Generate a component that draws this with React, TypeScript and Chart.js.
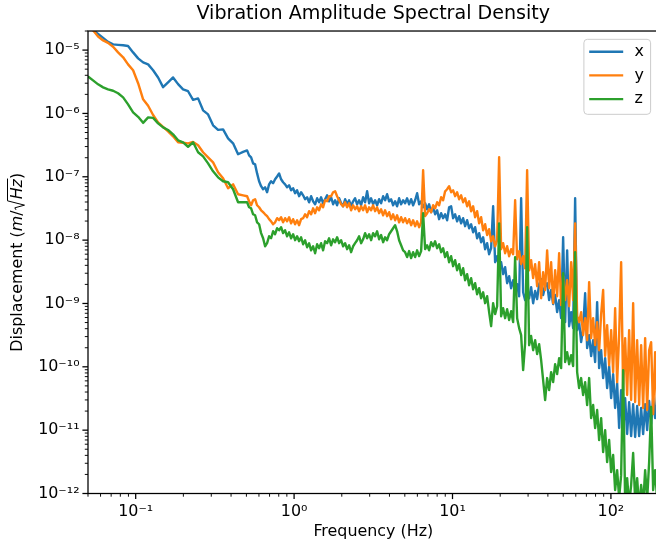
import React, { useEffect, useRef } from 'react';
import { Chart, registerables } from 'chart.js';

Chart.register(...registerables);

// ---------- data ----------
const FREQ_LOW = [0.05, 0.0538, 0.0579, 0.0623, 0.0669, 0.072, 0.0774, 0.0833, 0.0895, 0.0963, 0.1036, 0.1114, 0.1198, 0.1288, 0.1385, 0.1489, 0.1601, 0.1722, 0.1852, 0.1991, 0.2141, 0.2303, 0.2477, 0.2663, 0.2864, 0.308, 0.3312, 0.3562, 0.383, 0.4119, 0.443, 0.4764];
const FREQ_MID = [
  0.505, 0.5199, 0.5353, 0.5511, 0.5673, 0.5841, 0.6013, 0.619, 0.6373, 0.6561,
  0.6754, 0.6953, 0.7159, 0.737, 0.7587, 0.7811, 0.8042, 0.8279, 0.8523, 0.8775,
  0.9034, 0.93, 0.9575, 0.9857, 1.0148, 1.0447, 1.0756, 1.1073, 1.14, 1.1736,
  1.2082, 1.2439, 1.2806, 1.3183, 1.3572, 1.3973, 1.4385, 1.4809, 1.5246, 1.5696,
  1.6159, 1.6636, 1.7126, 1.7632, 1.8152, 1.8687, 1.9238, 1.9806, 2.039, 2.0992,
  2.1611, 2.2249, 2.2905, 2.3581, 2.4276, 2.4993, 2.573, 2.6489, 2.7271, 2.8075,
  2.8903, 2.9756, 3.0634, 3.1538, 3.2468, 3.3426, 3.4412, 3.5428, 3.6473, 3.7549,
  3.8657, 3.9797, 4.0971, 4.218, 4.3424, 4.4705, 4.6024, 4.7382, 4.878,
];
const FREQ_HIGH = [
  5.0219, 5.17, 5.3225, 5.4796, 5.6412, 5.8076, 5.9789, 6.1553, 6.3369, 6.5239,
  6.7163, 6.9145, 7.1185, 7.3285, 7.5447, 7.7672, 7.9964, 8.2323, 8.4751, 8.7252,
  8.9826, 9.2476, 9.5204, 9.8012, 10.09, 10.388, 10.695, 11.01, 11.335, 11.669,
  12.014, 12.368, 12.733, 13.108, 13.495, 13.893, 14.303, 14.725, 15.159, 15.607,
  16.067, 16.541, 17.029, 17.531, 18.049, 18.581, 19.129, 19.693, 20.274, 20.873,
  21.488, 22.122, 22.775, 23.447, 24.139, 24.851, 25.584, 26.339, 27.116, 27.916,
  28.739, 29.587, 30.46, 31.358, 32.283, 33.236, 34.216, 35.226, 36.265, 37.335,
  38.436, 39.57, 40.737, 41.939, 43.176, 44.45, 45.761, 47.111, 48.501, 49.932,
  51.405, 52.921, 54.482, 56.09, 57.744, 59.448, 61.201, 63.007, 64.866, 66.779,
  68.749, 70.777, 72.865, 75.015, 77.228, 79.506, 81.852, 84.266, 86.752, 89.311,
  91.946, 94.659, 97.451, 100.33, 103.29, 106.33, 109.47, 112.7, 116.02, 119.45,
  122.97, 126.6, 130.33, 134.18, 138.14, 142.21, 146.41, 150.73, 155.17, 159.75,
  164.46, 169.32, 174.31, 179.45, 184.75, 190.2, 195.81,
];

const X_LOW = [2.36e-5, 2.08e-5, 1.8e-5, 1.56e-5, 1.35e-5, 1.23e-5, 1.21e-5, 1.19e-5, 1.16e-5, 9.2e-6, 7.4e-6, 6.4e-6, 5.95e-6, 4.8e-6, 3.7e-6, 2.6e-6, 3.1e-6, 3.7e-6, 2.9e-6, 2.4e-6, 2.24e-6, 1.64e-6, 1.73e-6, 1.12e-6, 9.65e-7, 6.5e-7, 5.5e-7, 5.6e-7, 4.05e-7, 3.37e-7, 2.27e-7, 2.47e-7];
const X_MID = [
  2.61e-7, 2.18e-7, 2.02e-7, 1.63e-7, 1.57e-7, 1.13e-7, 8.5e-8, 7.1e-8, 6.35e-8, 6.83e-8,
  5.7e-8, 7.6e-8, 8.5e-8, 7.9e-8, 9.13e-8, 1.01e-7, 1.13e-7, 9.13e-8, 8.2e-8, 7.6e-8,
  6.83e-8, 7.35e-8, 6.12e-8, 6.6e-8, 5.5e-8, 6.12e-8, 4.93e-8, 5.7e-8, 5.1e-8, 4.42e-8,
  4.75e-8, 3.96e-8, 4.93e-8, 4.1e-8, 3.68e-8, 4.58e-8, 3.96e-8, 4.75e-8, 3.82e-8, 4.42e-8,
  5.1e-8, 4.1e-8, 4.75e-8, 3.68e-8, 4.26e-8, 3.55e-8, 4.58e-8, 3.82e-8, 3.42e-8, 4.42e-8,
  3.68e-8, 4.26e-8, 3.42e-8, 4.1e-8, 4.58e-8, 3.68e-8, 4.26e-8, 3.55e-8, 4.75e-8, 3.96e-8,
  5.9e-8, 3.82e-8, 4.58e-8, 3.68e-8, 4.26e-8, 3.55e-8, 4.42e-8, 3.82e-8, 4.93e-8, 4.26e-8,
  5.3e-8, 4.1e-8, 4.42e-8, 3.55e-8, 4.1e-8, 3.42e-8, 4.58e-8, 3.68e-8, 4.26e-8,
];
const X_HIGH = [
  3.82e-8, 4.58e-8, 3.68e-8, 4.42e-8, 3.55e-8, 4.26e-8, 5.5e-8, 3.68e-8, 4.1e-8, 3.3e-8,
  3.82e-8, 3.07e-8, 3.68e-8, 2.76e-8, 3.3e-8, 2.56e-8, 2.96e-8, 2.14e-8, 2.66e-8, 2.22e-8,
  2.56e-8, 2.06e-8, 3.3e-8, 3.42e-8, 2.22e-8, 2.56e-8, 1.98e-8, 2.39e-8, 1.84e-8, 2.22e-8,
  1.66e-8, 2.06e-8, 1.54e-8, 1.78e-8, 1.33e-8, 1.6e-8, 1.07e-8, 1.29e-8, 9.27e-9, 1.11e-8,
  7.18e-9, 8.94e-9, 5.99e-9, 7.45e-9, 3.42e-8, 4.48e-9, 5.57e-9, 3.6e-9, 4.48e-9, 2.9e-9,
  3.74e-9, 2.09e-9, 2.69e-9, 1.74e-9, 2.33e-9, 1.5e-9, 2.01e-9, 1.3e-9, 4.58e-8, 1.5e-9,
  1.13e-9, 1.68e-9, 1.21e-9, 1.81e-9, 1.01e-9, 1.57e-9, 1.17e-9, 2.01e-9, 2.42e-9, 1.36e-9,
  1.87e-9, 2.09e-9, 1.13e-9, 1.63e-9, 9.75e-10, 1.36e-9, 7.3e-10, 1.13e-9, 5.86e-10, 1.11e-8,
  5.07e-10, 6.9e-9, 4.38e-10, 7.3e-10, 4.08e-10, 4.58e-8, 3.79e-10, 5.07e-10, 2.45e-10, 4.08e-10,
  1.45e-9, 1.97e-10, 3.16e-10, 1.48e-10, 2.63e-10, 1.19e-10, 1.05e-9, 9.54e-11, 1.83e-10, 6.64e-11,
  1.37e-10, 4.61e-11, 1.03e-10, 3.2e-11, 7.67e-11, 2.24e-11, 5.53e-11, 1.08e-11, 4.29e-11, 9.0e-12,
  3.2e-11, 8.68e-12, 2.77e-11, 8.07e-12, 2.58e-11, 7.79e-12, 2.4e-11, 8.07e-12, 2.24e-11, 8.68e-12,
  2.58e-11, 1.0e-11, 2.88e-11, 1.25e-11, 3.2e-11, 1.55e-11, 3.45e-11,
];

const Y_LOW = [2.45e-5, 2.05e-5, 1.64e-5, 1.42e-5, 1.3e-5, 1.13e-5, 9.2e-6, 7.7e-6, 5.95e-6, 4.8e-6, 3.0e-6, 1.67e-6, 1.32e-6, 9.44e-7, 7.24e-7, 6.15e-7, 5.22e-7, 4.35e-7, 3.5e-7, 3.44e-7, 3.37e-7, 3.54e-7, 3.14e-7, 2.44e-7, 2.03e-7, 1.69e-7, 1.18e-7, 9.47e-8, 6.6e-8, 7.6e-8, 5.3e-8, 5.1e-8];
const Y_MID = [
  4.93e-8, 4.1e-8, 3.55e-8, 4.26e-8, 4.42e-8, 3.55e-8, 3.3e-8, 2.96e-8, 2.76e-8, 2.56e-8,
  2.39e-8, 2.14e-8, 1.98e-8, 1.78e-8, 1.91e-8, 2.22e-8, 2.06e-8, 2.3e-8, 1.91e-8, 2.22e-8,
  1.98e-8, 2.3e-8, 1.84e-8, 2.14e-8, 1.78e-8, 2.06e-8, 1.72e-8, 2.14e-8, 2.22e-8, 2.56e-8,
  2.3e-8, 2.86e-8, 2.56e-8, 3.18e-8, 2.66e-8, 3.3e-8, 2.96e-8, 3.68e-8, 3.3e-8, 4.26e-8,
  4.1e-8, 4.93e-8, 4.93e-8, 5.7e-8, 5.9e-8, 4.93e-8, 4.26e-8, 3.68e-8, 3.42e-8, 3.96e-8,
  3.3e-8, 3.82e-8, 2.96e-8, 3.55e-8, 3.07e-8, 3.42e-8, 2.86e-8, 3.42e-8, 2.96e-8, 3.55e-8,
  2.76e-8, 3.3e-8, 2.96e-8, 3.55e-8, 2.86e-8, 3.3e-8, 2.66e-8, 3.07e-8, 2.47e-8, 2.96e-8,
  2.39e-8, 2.76e-8, 2.14e-8, 2.56e-8, 2.06e-8, 2.47e-8, 1.91e-8, 2.3e-8, 1.91e-8,
];
const Y_HIGH = [
  2.22e-8, 1.84e-8, 2.14e-8, 1.72e-8, 2.06e-8, 1.66e-8, 1.98e-8, 1.6e-8, 1.91e-8, 1.27e-7,
  2.39e-8, 2.66e-8, 3.07e-8, 2.76e-8, 3.55e-8, 3.18e-8, 3.96e-8, 3.55e-8, 4.75e-8, 4.26e-8,
  5.9e-8, 6.35e-8, 7.1e-8, 5.7e-8, 6.12e-8, 4.93e-8, 5.7e-8, 4.42e-8, 5.1e-8, 3.96e-8,
  4.58e-8, 3.42e-8, 4.1e-8, 2.86e-8, 3.42e-8, 2.3e-8, 2.86e-8, 1.84e-8, 2.3e-8, 1.43e-8,
  1.78e-8, 1.2e-8, 1.49e-8, 9.6e-9, 1.15e-8, 8.0e-9, 9.96e-9, 2.03e-7, 7.18e-9, 8.94e-9,
  6.2e-9, 8.0e-9, 5.57e-9, 7.18e-9, 5.99e-9, 4.26e-8, 5.0e-9, 6.69e-9, 4.17e-9, 5.57e-9,
  3.6e-9, 1.27e-7, 3.35e-9, 4.82e-9, 2.51e-9, 4.17e-9, 1.87e-9, 4.48e-9, 1.21e-9, 3.12e-9,
  1.63e-9, 6.9e-9, 1.74e-9, 4.48e-9, 1.01e-9, 3.35e-9, 1.3e-9, 6.2e-9, 9.4e-10, 2.69e-9,
  1.13e-9, 2.33e-9, 9.06e-10, 4.48e-9, 1.13e-9, 1.84e-8, 6.3e-10, 5.07e-10, 7.3e-10, 3.16e-10,
  5.86e-10, 2.63e-10, 2.17e-9, 2.84e-10, 5.86e-10, 2.2e-10, 5.07e-10, 1.83e-10, 6.78e-10, 1.63e-9,
  1.48e-10, 4.55e-10, 1.06e-10, 3.79e-10, 8.25e-11, 8.43e-10, 5.73e-11, 3.16e-10, 4.48e-9, 4.29e-11,
  2.84e-10, 3.58e-11, 3.79e-10, 2.99e-11, 1.01e-9, 2.77e-11, 2.63e-10, 2.49e-11, 2.2e-10, 2.24e-11,
  2.84e-10, 2.08e-11, 1.83e-10, 2.45e-10, 1.79e-11, 1.7e-10, 1.93e-11,
];

const Z_LOW = [3.85e-6, 3.33e-6, 2.88e-6, 2.58e-6, 2.4e-6, 2.28e-6, 2.08e-6, 1.79e-6, 1.39e-6, 1.04e-6, 8.84e-7, 7.1e-7, 8.68e-7, 8.5e-7, 6.98e-7, 6.03e-7, 5.47e-7, 4.68e-7, 3.77e-7, 3.5e-7, 2.98e-7, 3.5e-7, 2.44e-7, 2.1e-7, 1.63e-7, 1.22e-7, 9.8e-8, 8.5e-8, 8.2e-8, 6.35e-8, 3.96e-8, 3.96e-8];
const Z_MID = [
  3.96e-8, 3.3e-8, 3.18e-8, 2.56e-8, 2.47e-8, 1.91e-8, 1.78e-8, 1.29e-8, 1.07e-8, 8.0e-9,
  8.94e-9, 1.15e-8, 1.07e-8, 1.38e-8, 1.24e-8, 1.54e-8, 1.43e-8, 1.6e-8, 1.29e-8, 1.43e-8,
  1.15e-8, 1.33e-8, 1.07e-8, 1.24e-8, 9.96e-9, 1.15e-8, 9.6e-9, 1.11e-8, 8.6e-9, 9.96e-9,
  7.72e-9, 8.94e-9, 6.9e-9, 8.0e-9, 6.2e-9, 8.6e-9, 7.45e-9, 8.94e-9, 6.9e-9, 9.6e-9,
  8.94e-9, 1.07e-8, 8.3e-9, 1.03e-8, 9.27e-9, 1.11e-8, 8.94e-9, 9.96e-9, 8.0e-9, 8.94e-9,
  7.18e-9, 8.3e-9, 6.45e-9, 8.0e-9, 8.94e-9, 9.96e-9, 1.15e-8, 8.94e-9, 1.03e-8, 1.29e-8,
  1.07e-8, 1.24e-8, 9.96e-9, 1.29e-8, 1.15e-8, 1.38e-8, 1.03e-8, 1.2e-8, 9.27e-9, 1.11e-8,
  9.96e-9, 1.24e-8, 1.38e-8, 1.54e-8, 1.72e-8, 1.38e-8, 9.96e-9, 8.3e-9, 6.9e-9,
];
const Z_HIGH = [
  6.45e-9, 5.39e-9, 6.71e-9, 5.2e-9, 6.45e-9, 5.39e-9, 6.9e-9, 5.59e-9, 6.71e-9, 2.66e-8,
  7.21e-9, 8.3e-9, 6.9e-9, 9.27e-9, 8.0e-9, 9.6e-9, 7.45e-9, 8.6e-9, 6.45e-9, 7.45e-9,
  5.39e-9, 6.45e-9, 4.48e-9, 5.59e-9, 3.88e-9, 4.82e-9, 3.35e-9, 4.17e-9, 2.8e-9, 3.6e-9,
  2.33e-9, 2.9e-9, 1.94e-9, 2.51e-9, 1.68e-9, 2.09e-9, 1.4e-9, 1.74e-9, 1.21e-9, 1.5e-9,
  1.01e-9, 1.3e-9, 7.3e-10, 4.38e-10, 1.01e-9, 6.78e-10, 9.06e-10, 1.84e-8, 6.3e-10, 8.43e-10,
  5.86e-10, 8.13e-10, 5.47e-10, 7.56e-10, 5.07e-10, 5.39e-9, 5.86e-10, 4.08e-10, 3.16e-10, 8.87e-11,
  2.37e-10, 1.6e-8, 2.2e-10, 3.06e-10, 1.83e-10, 2.63e-10, 1.59e-10, 2.28e-10, 1.27e-10, 6.17e-11,
  2.99e-11, 6.64e-11, 4.29e-11, 8.25e-11, 5.73e-11, 1.1e-10, 7.67e-11, 1.37e-10, 9.54e-11, 3.0e-9,
  1.19e-10, 1.7e-10, 1.1e-10, 1.53e-10, 1.03e-10, 6.45e-9, 8.25e-11, 4.61e-11, 6.64e-11, 3.58e-11,
  5.73e-11, 2.49e-11, 6.64e-11, 1.55e-11, 2.49e-11, 1.08e-11, 2.08e-11, 6.98e-12, 1.55e-11, 4.5e-12,
  1.0e-11, 3.13e-12, 6.98e-12, 2.18e-12, 4.05e-12, 1.13e-12, 2.34e-12, 8.5e-13, 1.95e-12, 8.87e-11,
  7.35e-13, 1.75e-12, 6.6e-13, 1.36e-12, 4.35e-12, 7.9e-13, 1.75e-12, 5.9e-13, 1.36e-12, 6.6e-13,
  2.34e-12, 7.9e-13, 3.13e-12, 2.32e-11, 1.13e-12, 2.34e-12, 7.9e-13,
];

const SERIES_LABELS = ['x', 'y', 'z'];
const SERIES_COLORS = ['#1f77b4', '#ff7f0e', '#2ca02c'];
const X_TICKS = [0.1, 1, 10, 100];
const Y_TICKS = [1e-12, 1e-11, 1e-10, 1e-9, 1e-8, 1e-7, 1e-6, 1e-5];
const X_MIN = 0.05;
const X_MAX = 200;
const Y_MIN = 1e-12;
const Y_MAX = 2e-5;

const TITLE = 'Vibration Amplitude Spectral Density';
const X_TITLE = 'Frequency (Hz)';

const FONT = '"DejaVu Sans", sans-serif';
const FS = 15.9;

const FREQ = [...FREQ_LOW, ...FREQ_MID, ...FREQ_HIGH];
const SERIES = [
  [...X_LOW, ...X_MID, ...X_HIGH],
  [...Y_LOW, ...Y_MID, ...Y_HIGH],
  [...Z_LOW, ...Z_MID, ...Z_HIGH],
];

const SUP: Record<string, string> = { '-': '⁻', '0': '⁰', '1': '¹', '2': '²', '3': '³', '4': '⁴', '5': '⁵', '6': '⁶', '7': '⁷', '8': '⁸', '9': '⁹' };
const pow10Label = (v: number) =>
  '10' + String(Math.round(Math.log10(v))).split('').map((c) => SUP[c] || c).join('');

function drawYTitle(ctx: CanvasRenderingContext2D, cx: number, cy: number) {
  const normal = `${FS}px ${FONT}`;
  const italic = `italic ${FS}px ${FONT}`;
  const radW = 11;
  const parts: { t: string; f?: string; over?: boolean; rad?: boolean }[] = [
    { t: 'Displacement (', f: normal },
    { t: 'm', f: italic },
    { t: '/', f: normal },
    { t: '', rad: true },
    { t: 'Hz', f: italic, over: true },
    { t: ')', f: normal },
  ];
  let total = 0;
  const widths = parts.map((p) => {
    if (p.rad) return radW;
    ctx.font = p.f!;
    return ctx.measureText(p.t).width;
  });
  widths.forEach((w) => (total += w));
  ctx.save();
  ctx.translate(cx, cy);
  ctx.rotate(-Math.PI / 2);
  ctx.fillStyle = '#000';
  ctx.strokeStyle = '#000';
  ctx.textBaseline = 'alphabetic';
  ctx.textAlign = 'left';
  let x = -total / 2;
  const barY = -14.5;
  parts.forEach((p, i) => {
    if (p.rad) {
      ctx.lineWidth = 1;
      ctx.beginPath();
      ctx.moveTo(x + 0.5, -6);
      ctx.lineTo(x + 2.5, -7.2);
      ctx.lineTo(x + 5.2, 2.5);
      ctx.lineTo(x + 9.5, barY);
      ctx.stroke();
    } else {
      ctx.font = p.f!;
      ctx.fillText(p.t, x, 0);
      if (p.over) {
        ctx.lineWidth = 1;
        ctx.beginPath();
        ctx.moveTo(x - radW + 9.5, barY);
        ctx.lineTo(x + widths[i] + 0.5, barY);
        ctx.stroke();
      }
    }
    x += widths[i];
  });
  ctx.restore();
}

const decorPlugin = {
  id: 'mplDecor',
  afterDraw(chart: any) {
    const ctx: CanvasRenderingContext2D = chart.ctx;
    const { left, right, top, bottom } = chart.chartArea;
    const xs = chart.scales.x;
    const ys = chart.scales.y;
    ctx.save();
    ctx.strokeStyle = '#000';
    ctx.lineWidth = 1.27;
    ctx.strokeRect(left, top, right - left, bottom - top);
    for (let e = -2; e <= 2; e++) {
      for (let k = 1; k <= 9; k++) {
        const v = k * Math.pow(10, e);
        if (v < X_MIN * 0.999 || v > X_MAX * 1.001) continue;
        const px = xs.getPixelForValue(v);
        const major = k === 1;
        ctx.lineWidth = major ? 1.27 : 0.95;
        ctx.beginPath();
        ctx.moveTo(px, bottom);
        ctx.lineTo(px, bottom + (major ? 5.6 : 3.2));
        ctx.stroke();
      }
    }
    for (let e = -12; e <= -5; e++) {
      for (let k = 1; k <= 9; k++) {
        const v = k * Math.pow(10, e);
        if (v < Y_MIN * 0.999 || v > Y_MAX * 1.001) continue;
        const py = ys.getPixelForValue(v);
        const major = k === 1;
        ctx.lineWidth = major ? 1.27 : 0.95;
        ctx.beginPath();
        ctx.moveTo(left, py);
        ctx.lineTo(left - (major ? 5.6 : 3.2), py);
        ctx.stroke();
      }
    }
    // legend
    const bw = 66.7;
    const bh = 75;
    const bx = right - 8 - bw;
    const by = top + 8.3;
    const r = 3.5;
    ctx.beginPath();
    ctx.moveTo(bx + r, by);
    ctx.lineTo(bx + bw - r, by);
    ctx.arcTo(bx + bw, by, bx + bw, by + r, r);
    ctx.lineTo(bx + bw, by + bh - r);
    ctx.arcTo(bx + bw, by + bh, bx + bw - r, by + bh, r);
    ctx.lineTo(bx + r, by + bh);
    ctx.arcTo(bx, by + bh, bx, by + bh - r, r);
    ctx.lineTo(bx, by + r);
    ctx.arcTo(bx, by, bx + r, by, r);
    ctx.closePath();
    ctx.fillStyle = 'rgba(255,255,255,0.8)';
    ctx.fill();
    ctx.strokeStyle = '#cccccc';
    ctx.lineWidth = 1;
    ctx.stroke();
    ctx.font = `${FS}px ${FONT}`;
    ctx.textAlign = 'left';
    ctx.textBaseline = 'alphabetic';
    SERIES_LABELS.forEach((lab, i) => {
      const ly = by + 12.4 + i * 23.7;
      ctx.strokeStyle = SERIES_COLORS[i];
      ctx.lineWidth = 2.4;
      ctx.beginPath();
      ctx.moveTo(bx + 5.3, ly);
      ctx.lineTo(bx + 39.3, ly);
      ctx.stroke();
      ctx.fillStyle = '#000';
      ctx.fillText(lab, bx + 50.5, ly + 4.3);
    });
    drawYTitle(ctx, 22, (top + bottom) / 2);
    ctx.restore();
  },
};

export default function App() {
  const ref = useRef<HTMLCanvasElement>(null);
  useEffect(() => {
    const canvas = ref.current;
    if (!canvas) return;
    const datasets = SERIES.map((vals, i) => ({
      label: SERIES_LABELS[i],
      data: FREQ.map((f, j) => ({ x: f, y: vals[j] })),
      borderColor: SERIES_COLORS[i],
      backgroundColor: SERIES_COLORS[i],
      borderWidth: 2.4,
      pointRadius: 0,
      fill: false,
      tension: 0,
      clip: 0,
      order: 3 - i,
      borderJoinStyle: 'round',
    }));
    const chart = new Chart(canvas, {
      type: 'line',
      data: { datasets } as any,
      options: {
        responsive: false,
        animation: false,
        devicePixelRatio: 1,
        events: [],
        layout: { padding: { left: 0, right: 5.4, top: 0, bottom: 0 } },
        scales: {
          x: {
            type: 'logarithmic',
            position: 'bottom',
            min: X_MIN,
            max: X_MAX,
            grid: { display: false, drawTicks: false },
            border: { display: false },
            ticks: {
              font: { family: FONT, size: FS },
              color: '#000',
              padding: 8.4,
              autoSkip: false,
              maxRotation: 0,
              minRotation: 0,
              callback: (v: any) => pow10Label(Number(v)),
            },
            title: {
              display: true,
              text: X_TITLE,
              color: '#000',
              font: { family: FONT, size: FS },
              padding: { top: 0, bottom: 4.1 },
            },
            afterBuildTicks: (s: any) => {
              s.ticks = X_TICKS.map((v) => ({ value: v, major: true }));
            },
            afterFit: (s: any) => {
              s.height = 52.5;
            },
          },
          y: {
            type: 'logarithmic',
            position: 'left',
            min: Y_MIN,
            max: Y_MAX,
            grid: { display: false, drawTicks: false },
            border: { display: false },
            ticks: {
              font: { family: FONT, size: FS },
              color: '#000',
              padding: 8.5,
              autoSkip: false,
              callback: (v: any) => pow10Label(Number(v)),
            },
            afterBuildTicks: (s: any) => {
              s.ticks = Y_TICKS.map((v) => ({ value: v, major: true }));
            },
            afterFit: (s: any) => {
              s.width = 88;
            },
          },
        },
        plugins: {
          legend: { display: false },
          tooltip: { enabled: false },
          title: {
            display: true,
            text: TITLE,
            color: '#000',
            fullSize: false,
            font: { family: FONT, size: 19.1, weight: 'normal' },
            padding: { top: 2.5, bottom: 5.6 },
          },
        },
      } as any,
      plugins: [decorPlugin],
    });
    return () => chart.destroy();
  }, []);
  return (
    <div style={{ position: 'fixed', left: 0, top: 0, width: 656, height: 546, overflow: 'hidden', background: '#fff' }}>
      <canvas ref={ref} width={664} height={546} style={{ display: 'block', width: 664, height: 546 }} />
    </div>
  );
}
